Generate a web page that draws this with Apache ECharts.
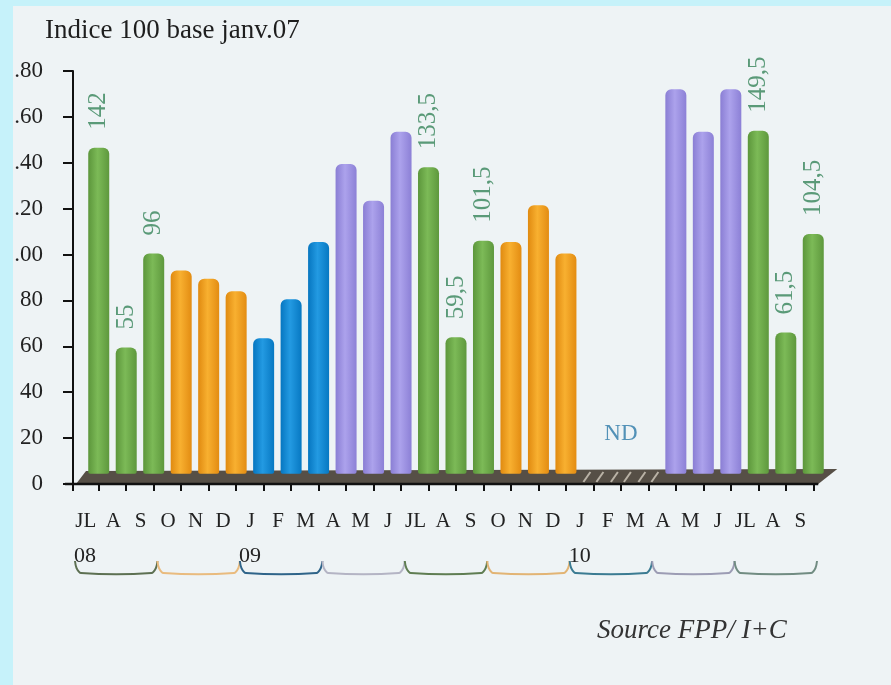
<!DOCTYPE html>
<html>
<head>
<meta charset="utf-8">
<script src="https://cdn.jsdelivr.net/npm/echarts@6/dist/echarts.min.js"></script>
<style>
  html, body { margin: 0; padding: 0; background: #c6f2fa; }
  #chart { width: 891px; height: 685px; }
</style>
</head>
<body>
<div id="chart"></div>
<script>
// months from July 2008 to September 2010 (JL = juillet)
var categories = ['JL', 'A', 'S', 'O', 'N', 'D', 'J', 'F', 'M', 'A', 'M', 'J',
                  'JL', 'A', 'S', 'O', 'N', 'D', 'J', 'F', 'M', 'A', 'M', 'J',
                  'JL', 'A', 'S'];
// index 100 = janv. 07 ; null = ND (non disponible)
var values = [142, 55, 96, 88.5, 85, 79.5, 59, 76, 101, 135, 119, 149,
              133.5, 59.5, 101.5, 101, 117, 96, null, null, null, 167.5, 149, 167.5,
              149.5, 61.5, 104.5];
// season of each month: 0 summer, 1 autumn, 2 winter, 3 spring
var seasons = [0, 0, 0, 1, 1, 1, 2, 2, 2, 3, 3, 3,
               0, 0, 0, 1, 1, 1, 2, 2, 2, 3, 3, 3,
               0, 0, 0];
var yTickLabels = ['0', '20', '40', '60', '80', '.00', '.20', '.40', '.60', '.80'];
var yearLabels = ['08', '09', '10'];
var yearStart = [0, 6, 18];
var braceBounds = [0, 3, 6, 9, 12, 15, 18, 21, 24, 27];
var braceColors = ['#5d7052', '#e9bb7e', '#2f6489', '#b4b4c4', '#5f7d52',
                   '#e2b474', '#3b7b92', '#9c9cb4', '#718c82'];
var ndIndex = 19;
var ndLevel = 22;

var seasonColors = [
  ['#5c963b', '#7cba57', '#5e983d'],
  ['#e08a10', '#f8b030', '#e38c12'],
  ['#0676c0', '#239ae2', '#0778c2'],
  ['#8a7ed4', '#aca2ec', '#8c80d6']
];

var serif = 'Liberation Serif';

function barColor(s) {
  var c = seasonColors[s];
  return new echarts.graphic.LinearGradient(0, 0, 1, 0, [
    { offset: 0, color: c[0] },
    { offset: 0.45, color: c[1] },
    { offset: 1, color: c[2] }
  ]);
}

var barData = values.map(function (v, i) {
  return {
    value: v,
    itemStyle: { color: barColor(seasons[i]) },
    label: { show: seasons[i] === 0 && v != null }
  };
});

var ndData = categories.map(function (c, i) {
  return i === ndIndex ? ndLevel : null;
});

var chart = echarts.init(document.getElementById('chart'));

chart.setOption({
  backgroundColor: '#c6f2fa',
  animation: false,
  title: [
    {
      text: 'Indice 100 base janv.07',
      left: 40, top: 12,
      textStyle: { fontFamily: serif, fontSize: 27, fontWeight: 'normal', color: '#1e1e1e' }
    },
    {
      text: 'Source FPP/ I+C',
      left: 592, top: 612,
      textStyle: { fontFamily: serif, fontSize: 27, fontStyle: 'italic', fontWeight: 'normal', color: '#333' }
    }
  ],
  grid: { left: 85, right: 64, top: 71, bottom: 201 },
  xAxis: {
    type: 'category',
    data: categories,
    axisLine: { show: false },
    axisTick: { show: true, alignWithLabel: true, length: 7, lineStyle: { color: '#111', width: 2 } },
    axisLabel: {
      interval: 0, margin: 27, padding: [0, 26, 0, 0],
      fontFamily: serif, fontSize: 21, color: '#222'
    },
    splitLine: { show: false }
  },
  yAxis: [
    {
      type: 'value', min: 0, max: 180, interval: 20, offset: 12,
      axisLine: { show: true, lineStyle: { color: '#111', width: 2 } },
      axisTick: { show: true, length: 10, lineStyle: { color: '#111', width: 2 } },
      axisLabel: {
        margin: 30, fontFamily: serif, fontSize: 23, color: '#222',
        formatter: function (v) { return yTickLabels[v / 20]; }
      },
      splitLine: { show: false }
    },
    {
      // bars stand on the back of the 3D floor
      type: 'value', min: -4.5, max: 175.5, show: false,
      splitLine: { show: false }
    }
  ],
  series: [
    {
      type: 'bar',
      yAxisIndex: 1,
      barWidth: 21,
      data: barData,
      z: 3,
      itemStyle: { borderRadius: [6, 6, 2, 2] },
      label: {
        position: 'top', rotate: 90, align: 'left', verticalAlign: 'middle',
        distance: 18, fontFamily: serif, fontSize: 25, color: '#5a9a78',
        formatter: function (p) { return String(p.value).replace('.', ','); }
      }
    },
    {
      type: 'scatter',
      yAxisIndex: 0,
      symbolSize: 0,
      data: ndData,
      label: {
        show: true, position: 'inside', formatter: 'ND',
        fontFamily: serif, fontSize: 23, color: '#2b78a8'
      }
    }
  ]
});

// decorations placed from the axes: floor, front line, year marks and braces
var px = function (i) { return chart.convertToPixel({ xAxisIndex: 0 }, i); };
var y0 = chart.convertToPixel({ yAxisIndex: 0 }, 0);
var step = px(1) - px(0);
var bound = function (k) { return px(0) + (k - 0.5) * step; };
var yAxisX = px(0) - step / 2 - 12;
var xEnd = px(categories.length - 1) + 5;

var g = [];
g.push({
  type: 'rect', z: -10,
  shape: { x: 13, y: 6, width: 878, height: 679 },
  style: { fill: '#eef3f5' }
});
g.push({
  type: 'polygon', z: 1,
  shape: { points: [[yAxisX + 3, y0], [xEnd, y0], [xEnd + 19, y0 - 15], [yAxisX + 13, y0 - 13]] },
  style: { fill: '#564f46' }
});
for (var i = ndIndex - 1; i <= ndIndex + 1; i++) {
  for (var k = 0; k < 2; k++) {
    var hx = px(i) - 10 + k * 13;
    g.push({
      type: 'line', z: 2,
      shape: { x1: hx, y1: y0 - 2, x2: hx + 7, y2: y0 - 12 },
      style: { stroke: '#b9b2a6', lineWidth: 2 }
    });
  }
}
g.push({
  type: 'line', z: 5,
  shape: { x1: yAxisX - 8, y1: y0, x2: xEnd, y2: y0 },
  style: { stroke: '#111', lineWidth: 2.5 }
});
g.push({
  type: 'line', z: 5,
  shape: { x1: yAxisX, y1: y0, x2: yAxisX, y2: y0 + 7 },
  style: { stroke: '#111', lineWidth: 2 }
});
yearLabels.forEach(function (t, j) {
  g.push({
    type: 'text', z: 5,
    x: bound(yearStart[j]), y: y0 + 72,
    style: { text: t, fill: '#222', font: '22px "Liberation Serif"', align: 'center', verticalAlign: 'middle' }
  });
});
var yT = y0 + 77, yB = y0 + 89;
for (var b = 0; b < braceBounds.length - 1; b++) {
  var xL = bound(braceBounds[b]) - 10, xR = bound(braceBounds[b + 1]) - 10;
  g.push({
    type: 'polyline', z: 5,
    shape: { points: [[xL, yT], [xL + 1.5, yB - 5], [xL + 6, yB], [xR - 6, yB], [xR - 1.5, yB - 5], [xR, yT]], smooth: 0.3 },
    style: { stroke: braceColors[b], lineWidth: 2, fill: null }
  });
}
chart.setOption({ graphic: { elements: g } });
</script>
</body>
</html>
